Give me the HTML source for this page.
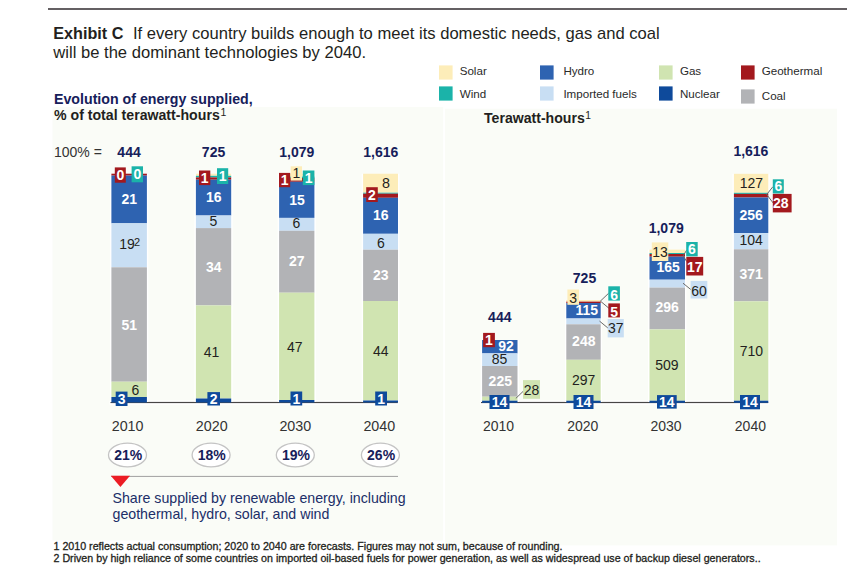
<!DOCTYPE html>
<html><head><meta charset="utf-8"><title>Exhibit C</title>
<style>
html,body{margin:0;padding:0;background:#fff;}
body{width:858px;height:569px;overflow:hidden;}
svg{display:block;font-family:"Liberation Sans", Arial, sans-serif;}
</style></head><body>
<svg width="858" height="569" viewBox="0 0 858 569">
<rect x="52.50" y="107.00" width="390.70" height="433.50" fill="#fafcf7"/>
<rect x="445.00" y="108.70" width="392.00" height="436.70" fill="#fafcf7"/>
<rect x="48.00" y="8.00" width="799.00" height="2.00" fill="#646063"/>
<text x="53.30" y="38.70" font-size="16.6" fill="#231f20"><tspan font-weight="bold" font-size="16.2">Exhibit C </tspan><tspan x="133">If every country builds enough to meet its domestic needs, gas and coal</tspan></text>
<text x="53.30" y="58.20" font-size="16.6" fill="#231f20">will be the dominant technologies by 2040.</text>
<rect x="439.00" y="65.40" width="13.60" height="14.20" fill="#fdedb9"/>
<text x="459.70" y="75.40" font-size="11.6" fill="#2a2a2a">Solar</text>
<rect x="439.00" y="86.40" width="13.60" height="14.20" fill="#1bb3a9"/>
<text x="459.70" y="98.40" font-size="11.6" fill="#2a2a2a">Wind</text>
<rect x="540.00" y="65.40" width="13.60" height="14.20" fill="#2e63b1"/>
<text x="563.40" y="75.40" font-size="11.6" fill="#2a2a2a">Hydro</text>
<rect x="540.00" y="86.40" width="13.60" height="14.20" fill="#c8def3"/>
<text x="563.40" y="98.40" font-size="11.6" fill="#2a2a2a">Imported fuels</text>
<rect x="659.00" y="65.40" width="13.60" height="14.20" fill="#d0e4b1"/>
<text x="679.90" y="75.40" font-size="11.6" fill="#2a2a2a">Gas</text>
<rect x="659.00" y="86.40" width="13.60" height="14.20" fill="#0e4a9b"/>
<text x="679.90" y="98.40" font-size="11.6" fill="#2a2a2a">Nuclear</text>
<rect x="741.00" y="65.40" width="13.60" height="14.20" fill="#a3191e"/>
<text x="761.70" y="75.40" font-size="11.6" fill="#2a2a2a">Geothermal</text>
<rect x="741.00" y="89.40" width="13.60" height="14.20" fill="#b2b3b6"/>
<text x="761.80" y="99.60" font-size="11.6" fill="#2a2a2a">Coal</text>
<text x="54.00" y="103.50" font-size="14.2" font-weight="bold" fill="#16205a">Evolution of energy supplied,</text>
<text x="54.00" y="119.60" font-size="14.15" font-weight="bold" fill="#231f20">% of total terawatt-hours<tspan font-size="10.5" font-weight="normal" dx="0.6" dy="-3.8">1</tspan></text>
<text x="484.00" y="122.70" font-size="14.1" font-weight="bold" fill="#231f20">Terawatt-hours<tspan font-size="10.3" font-weight="normal" dx="0.6" dy="-3.9">1</tspan></text>
<text x="54.00" y="156.70" font-size="14" fill="#333">100% =</text>
<text x="129.05" y="156.70" font-size="14" font-weight="bold" text-anchor="middle" fill="#16205a">444</text>
<text x="213.55" y="156.70" font-size="14" font-weight="bold" text-anchor="middle" fill="#16205a">725</text>
<text x="296.75" y="156.70" font-size="14" font-weight="bold" text-anchor="middle" fill="#16205a">1,079</text>
<text x="380.75" y="156.70" font-size="14" font-weight="bold" text-anchor="middle" fill="#16205a">1,616</text>
<rect x="109.50" y="400.50" width="289.30" height="4.20" fill="#fff"/>
<rect x="110.50" y="401.90" width="287.30" height="1.20" fill="#474545"/>
<rect x="110.00" y="173.70" width="38.30" height="228.20" fill="#fff"/>
<rect x="111.40" y="173.70" width="35.50" height="1.90" fill="#a3191e"/>
<rect x="111.40" y="175.60" width="35.50" height="47.70" fill="#2e63b1"/>
<rect x="111.40" y="223.30" width="35.50" height="44.00" fill="#c8def3"/>
<rect x="111.40" y="267.30" width="35.50" height="114.40" fill="#b2b3b6"/>
<rect x="111.40" y="381.70" width="35.50" height="15.30" fill="#d0e4b1"/>
<rect x="111.40" y="397.00" width="35.50" height="5.50" fill="#0e4a9b"/>
<rect x="194.50" y="173.70" width="38.10" height="228.20" fill="#fff"/>
<rect x="195.90" y="173.70" width="35.30" height="2.10" fill="#fdedb9"/>
<rect x="195.90" y="175.80" width="35.30" height="1.60" fill="#1bb3a9"/>
<rect x="195.90" y="177.40" width="35.30" height="2.30" fill="#a3191e"/>
<rect x="195.90" y="179.70" width="35.30" height="35.80" fill="#2e63b1"/>
<rect x="195.90" y="215.50" width="35.30" height="12.60" fill="#c8def3"/>
<rect x="195.90" y="228.10" width="35.30" height="77.30" fill="#b2b3b6"/>
<rect x="195.90" y="305.40" width="35.30" height="93.10" fill="#d0e4b1"/>
<rect x="195.90" y="398.50" width="35.30" height="4.00" fill="#0e4a9b"/>
<rect x="277.70" y="173.70" width="38.10" height="228.20" fill="#fff"/>
<rect x="279.10" y="173.70" width="35.30" height="2.90" fill="#fdedb9"/>
<rect x="279.10" y="176.60" width="35.30" height="1.40" fill="#1bb3a9"/>
<rect x="279.10" y="178.00" width="35.30" height="3.80" fill="#a3191e"/>
<rect x="279.10" y="181.80" width="35.30" height="36.10" fill="#2e63b1"/>
<rect x="279.10" y="217.90" width="35.30" height="12.90" fill="#c8def3"/>
<rect x="279.10" y="230.80" width="35.30" height="61.90" fill="#b2b3b6"/>
<rect x="279.10" y="292.70" width="35.30" height="107.30" fill="#d0e4b1"/>
<rect x="279.10" y="400.00" width="35.30" height="2.50" fill="#0e4a9b"/>
<rect x="361.70" y="173.70" width="37.70" height="228.20" fill="#fff"/>
<rect x="363.10" y="173.70" width="34.90" height="19.00" fill="#fdedb9"/>
<rect x="363.10" y="192.70" width="34.90" height="1.00" fill="#1bb3a9"/>
<rect x="363.10" y="193.70" width="34.90" height="4.10" fill="#a3191e"/>
<rect x="363.10" y="197.80" width="34.90" height="36.00" fill="#2e63b1"/>
<rect x="363.10" y="233.80" width="34.90" height="15.90" fill="#c8def3"/>
<rect x="363.10" y="249.70" width="34.90" height="51.30" fill="#b2b3b6"/>
<rect x="363.10" y="301.00" width="34.90" height="99.50" fill="#d0e4b1"/>
<rect x="363.10" y="400.50" width="34.90" height="2.00" fill="#0e4a9b"/>
<rect x="114.80" y="167.40" width="11.00" height="15.30" fill="#a3191e"/>
<text x="120.30" y="180.09" font-size="14" font-weight="bold" text-anchor="middle" fill="#fff">0</text>
<rect x="131.60" y="166.30" width="11.40" height="16.00" fill="#1bb3a9"/>
<text x="137.30" y="179.34" font-size="14" font-weight="bold" text-anchor="middle" fill="#fff">0</text>
<text x="129.20" y="204.00" font-size="14" font-weight="bold" text-anchor="middle" fill="#fff">21</text>
<text x="119.20" y="249.30" font-size="14" fill="#231f20">19<tspan font-size="11" dx="-0.9" dy="-3.6">2</tspan></text>
<text x="129.20" y="330.00" font-size="14" font-weight="bold" text-anchor="middle" fill="#fff">51</text>
<text x="135.30" y="394.50" font-size="14" text-anchor="middle" fill="#231f20">6</text>
<rect x="115.70" y="391.60" width="11.80" height="14.40" fill="#0e4a9b"/>
<text x="121.60" y="403.84" font-size="14" font-weight="bold" text-anchor="middle" fill="#fff">3</text>
<rect x="199.00" y="170.50" width="11.30" height="14.60" fill="#a3191e"/>
<text x="204.65" y="182.84" font-size="14" font-weight="bold" text-anchor="middle" fill="#fff">1</text>
<rect x="217.00" y="168.20" width="11.20" height="15.80" fill="#1bb3a9"/>
<text x="222.60" y="181.14" font-size="14" font-weight="bold" text-anchor="middle" fill="#fff">1</text>
<text x="213.70" y="201.70" font-size="14" font-weight="bold" text-anchor="middle" fill="#fff">16</text>
<text x="213.50" y="226.20" font-size="14" text-anchor="middle" fill="#231f20">5</text>
<text x="213.70" y="271.60" font-size="14" font-weight="bold" text-anchor="middle" fill="#fff">34</text>
<text x="211.50" y="357.10" font-size="14" text-anchor="middle" fill="#231f20">41</text>
<rect x="207.40" y="392.10" width="12.60" height="13.40" fill="#0e4a9b"/>
<text x="213.70" y="403.84" font-size="14" font-weight="bold" text-anchor="middle" fill="#fff">2</text>
<rect x="279.00" y="172.90" width="11.20" height="14.30" fill="#a3191e"/>
<text x="284.60" y="185.09" font-size="14" font-weight="bold" text-anchor="middle" fill="#fff">1</text>
<rect x="290.70" y="166.30" width="11.30" height="14.30" fill="#fdedb9"/>
<text x="296.35" y="178.49" font-size="14" text-anchor="middle" fill="#231f20">1</text>
<rect x="302.80" y="170.50" width="11.60" height="14.60" fill="#1bb3a9"/>
<text x="308.60" y="182.84" font-size="14" font-weight="bold" text-anchor="middle" fill="#fff">1</text>
<text x="297.00" y="204.80" font-size="14" font-weight="bold" text-anchor="middle" fill="#fff">15</text>
<text x="296.50" y="228.10" font-size="14" text-anchor="middle" fill="#231f20">6</text>
<text x="296.80" y="266.30" font-size="14" font-weight="bold" text-anchor="middle" fill="#fff">27</text>
<text x="294.80" y="351.80" font-size="14" text-anchor="middle" fill="#231f20">47</text>
<rect x="290.50" y="391.50" width="11.70" height="14.00" fill="#0e4a9b"/>
<text x="296.35" y="403.54" font-size="14" font-weight="bold" text-anchor="middle" fill="#fff">1</text>
<text x="386.00" y="188.20" font-size="14.3" text-anchor="middle" fill="#231f20">8</text>
<rect x="366.20" y="187.20" width="11.60" height="14.80" fill="#a3191e"/>
<text x="372.00" y="199.64" font-size="14" font-weight="bold" text-anchor="middle" fill="#fff">2</text>
<text x="380.80" y="220.00" font-size="14" font-weight="bold" text-anchor="middle" fill="#fff">16</text>
<text x="380.80" y="247.50" font-size="14" text-anchor="middle" fill="#231f20">6</text>
<text x="380.80" y="280.30" font-size="14" font-weight="bold" text-anchor="middle" fill="#fff">23</text>
<text x="380.70" y="355.70" font-size="14" text-anchor="middle" fill="#231f20">44</text>
<rect x="375.20" y="391.50" width="11.80" height="14.00" fill="#0e4a9b"/>
<text x="381.10" y="403.54" font-size="14" font-weight="bold" text-anchor="middle" fill="#fff">1</text>
<text x="111.70" y="430.50" font-size="14.3" fill="#333">2010</text>
<text x="195.80" y="430.50" font-size="14.3" fill="#333">2020</text>
<text x="279.40" y="430.50" font-size="14.3" fill="#333">2030</text>
<text x="363.40" y="430.50" font-size="14.3" fill="#333">2040</text>
<ellipse cx="127.5" cy="455" rx="19" ry="11.8" fill="#fff" stroke="#c4c4c4" stroke-width="1.3"/>
<text x="128.20" y="460.00" font-size="14" font-weight="bold" text-anchor="middle" fill="#16205a">21%</text>
<ellipse cx="211.1" cy="455" rx="19" ry="11.8" fill="#fff" stroke="#c4c4c4" stroke-width="1.3"/>
<text x="211.80" y="460.00" font-size="14" font-weight="bold" text-anchor="middle" fill="#16205a">18%</text>
<ellipse cx="295.3" cy="455" rx="19" ry="11.8" fill="#fff" stroke="#c4c4c4" stroke-width="1.3"/>
<text x="296.00" y="460.00" font-size="14" font-weight="bold" text-anchor="middle" fill="#16205a">19%</text>
<ellipse cx="380.4" cy="455" rx="19" ry="11.8" fill="#fff" stroke="#c4c4c4" stroke-width="1.3"/>
<text x="381.10" y="460.00" font-size="14" font-weight="bold" text-anchor="middle" fill="#16205a">26%</text>
<rect x="111.00" y="475.90" width="287.00" height="1.10" fill="#a9a9a9"/>
<polygon points="110.8,475.7 130,475.7 120.4,487" fill="#ec1c24"/>
<text x="112.50" y="503.40" font-size="14.2" fill="#202e68">Share supplied by renewable energy, including</text>
<text x="112.50" y="519.20" font-size="14.2" fill="#202e68">geothermal, hydro, solar, and wind</text>
<rect x="480.00" y="400.50" width="289.20" height="4.20" fill="#fff"/>
<rect x="481.00" y="401.90" width="287.20" height="1.20" fill="#474545"/>
<rect x="480.70" y="340.00" width="38.20" height="61.90" fill="#fff"/>
<rect x="482.10" y="340.00" width="35.40" height="13.40" fill="#2e63b1"/>
<rect x="482.10" y="353.40" width="35.40" height="12.60" fill="#c8def3"/>
<rect x="482.10" y="366.00" width="35.40" height="30.70" fill="#b2b3b6"/>
<rect x="482.10" y="396.70" width="35.40" height="4.00" fill="#d0e4b1"/>
<rect x="482.10" y="400.70" width="35.40" height="2.10" fill="#0e4a9b"/>
<rect x="564.90" y="300.00" width="37.20" height="101.90" fill="#fff"/>
<rect x="566.30" y="300.00" width="34.40" height="1.60" fill="#fdedb9"/>
<rect x="566.30" y="301.60" width="34.40" height="1.40" fill="#a3191e"/>
<rect x="566.30" y="303.00" width="34.40" height="15.50" fill="#2e63b1"/>
<rect x="566.30" y="318.50" width="34.40" height="5.80" fill="#c8def3"/>
<rect x="566.30" y="324.30" width="34.40" height="35.50" fill="#b2b3b6"/>
<rect x="566.30" y="359.80" width="34.40" height="40.90" fill="#d0e4b1"/>
<rect x="566.30" y="400.70" width="34.40" height="2.10" fill="#0e4a9b"/>
<rect x="648.10" y="249.60" width="38.30" height="152.30" fill="#fff"/>
<rect x="649.50" y="249.60" width="35.50" height="3.40" fill="#fdedb9"/>
<rect x="649.50" y="253.00" width="35.50" height="1.00" fill="#1bb3a9"/>
<rect x="649.50" y="254.00" width="35.50" height="2.70" fill="#a3191e"/>
<rect x="649.50" y="256.70" width="35.50" height="23.00" fill="#2e63b1"/>
<rect x="649.50" y="279.70" width="35.50" height="7.90" fill="#c8def3"/>
<rect x="649.50" y="287.60" width="35.50" height="41.80" fill="#b2b3b6"/>
<rect x="649.50" y="329.40" width="35.50" height="71.30" fill="#d0e4b1"/>
<rect x="649.50" y="400.70" width="35.50" height="2.10" fill="#0e4a9b"/>
<rect x="732.50" y="173.80" width="37.20" height="228.10" fill="#fff"/>
<rect x="733.90" y="173.80" width="34.40" height="19.00" fill="#fdedb9"/>
<rect x="733.90" y="192.80" width="34.40" height="1.10" fill="#1bb3a9"/>
<rect x="733.90" y="193.90" width="34.40" height="3.60" fill="#a3191e"/>
<rect x="733.90" y="197.50" width="34.40" height="35.60" fill="#2e63b1"/>
<rect x="733.90" y="233.10" width="34.40" height="16.20" fill="#c8def3"/>
<rect x="733.90" y="249.30" width="34.40" height="52.00" fill="#b2b3b6"/>
<rect x="733.90" y="301.30" width="34.40" height="99.40" fill="#d0e4b1"/>
<rect x="733.90" y="400.70" width="34.40" height="2.10" fill="#0e4a9b"/>
<text x="499.80" y="322.20" font-size="14" font-weight="bold" text-anchor="middle" fill="#16205a">444</text>
<rect x="483.10" y="332.90" width="11.80" height="14.30" fill="#a3191e"/>
<text x="489.00" y="345.10" font-size="14" font-weight="bold" text-anchor="middle" fill="#fff">1</text>
<text x="506.00" y="351.30" font-size="14" font-weight="bold" text-anchor="middle" fill="#fff">92</text>
<text x="499.60" y="363.70" font-size="14" text-anchor="middle" fill="#231f20">85</text>
<text x="500.30" y="386.10" font-size="14" font-weight="bold" text-anchor="middle" fill="#fff">225</text>
<line x1="515.8" y1="398.4" x2="523.5" y2="391" stroke="#6a6a6a" stroke-width="1"/>
<rect x="523.00" y="380.10" width="17.00" height="18.70" fill="#d0e4b1"/>
<text x="531.50" y="394.60" font-size="14" text-anchor="middle" fill="#231f20">28</text>
<rect x="489.50" y="395.00" width="20.00" height="14.00" fill="#0e4a9b"/>
<text x="499.50" y="407.04" font-size="14" font-weight="bold" text-anchor="middle" fill="#fff">14</text>
<text x="584.50" y="282.50" font-size="14" font-weight="bold" text-anchor="middle" fill="#16205a">725</text>
<rect x="567.40" y="289.50" width="11.60" height="15.30" fill="#fdedb9"/>
<text x="573.20" y="303.40" font-size="14" text-anchor="middle" fill="#231f20">3</text>
<text x="586.80" y="314.60" font-size="14" font-weight="bold" text-anchor="middle" fill="#fff">115</text>
<line x1="600.4" y1="301.1" x2="608.7" y2="293.2" stroke="#6a6a6a" stroke-width="1"/>
<line x1="600.4" y1="301.1" x2="609" y2="308.3" stroke="#6a6a6a" stroke-width="1"/>
<rect x="608.30" y="286.30" width="11.60" height="14.30" fill="#1bb3a9"/>
<text x="614.10" y="299.60" font-size="14" font-weight="bold" text-anchor="middle" fill="#fff">6</text>
<rect x="608.30" y="303.40" width="11.60" height="14.00" fill="#a3191e"/>
<text x="614.10" y="316.50" font-size="14" font-weight="bold" text-anchor="middle" fill="#fff">5</text>
<line x1="599.5" y1="321.1" x2="608.5" y2="328.5" stroke="#6a6a6a" stroke-width="1"/>
<rect x="607.70" y="319.00" width="16.10" height="18.40" fill="#c8def3"/>
<text x="615.75" y="333.40" font-size="14" text-anchor="middle" fill="#231f20">37</text>
<text x="583.80" y="346.00" font-size="14" font-weight="bold" text-anchor="middle" fill="#fff">248</text>
<text x="583.70" y="385.40" font-size="14" text-anchor="middle" fill="#231f20">297</text>
<rect x="573.50" y="395.00" width="20.00" height="14.00" fill="#0e4a9b"/>
<text x="583.50" y="407.04" font-size="14" font-weight="bold" text-anchor="middle" fill="#fff">14</text>
<text x="666.20" y="233.40" font-size="14" font-weight="bold" text-anchor="middle" fill="#16205a">1,079</text>
<rect x="651.80" y="242.40" width="16.50" height="18.60" fill="#fdedb9"/>
<text x="660.05" y="256.74" font-size="14" text-anchor="middle" fill="#231f20">13</text>
<text x="668.20" y="271.70" font-size="14" font-weight="bold" text-anchor="middle" fill="#fff">165</text>
<line x1="683.3" y1="255.8" x2="686.6" y2="250.1" stroke="#6a6a6a" stroke-width="1"/>
<line x1="683.3" y1="255.8" x2="686.6" y2="261.5" stroke="#6a6a6a" stroke-width="1"/>
<rect x="686.20" y="242.00" width="11.50" height="14.40" fill="#1bb3a9"/>
<text x="691.95" y="254.24" font-size="14" font-weight="bold" text-anchor="middle" fill="#fff">6</text>
<rect x="686.30" y="256.90" width="16.90" height="18.60" fill="#a3191e"/>
<text x="694.75" y="272.30" font-size="14" font-weight="bold" text-anchor="middle" fill="#fff">17</text>
<line x1="683" y1="283.2" x2="691" y2="289.7" stroke="#6a6a6a" stroke-width="1"/>
<rect x="690.60" y="280.90" width="16.70" height="17.60" fill="#c8def3"/>
<text x="698.95" y="295.50" font-size="14" text-anchor="middle" fill="#231f20">60</text>
<text x="667.20" y="312.20" font-size="14" font-weight="bold" text-anchor="middle" fill="#fff">296</text>
<text x="666.90" y="370.10" font-size="14" text-anchor="middle" fill="#231f20">509</text>
<rect x="657.00" y="395.10" width="19.70" height="13.50" fill="#0e4a9b"/>
<text x="666.85" y="406.89" font-size="14" font-weight="bold" text-anchor="middle" fill="#fff">14</text>
<text x="750.90" y="155.60" font-size="14" font-weight="bold" text-anchor="middle" fill="#16205a">1,616</text>
<text x="751.40" y="188.00" font-size="14" text-anchor="middle" fill="#231f20">127</text>
<line x1="766.7" y1="194.5" x2="772.9" y2="186.7" stroke="#6a6a6a" stroke-width="1"/>
<line x1="766.7" y1="194.5" x2="773.2" y2="203" stroke="#6a6a6a" stroke-width="1"/>
<rect x="772.80" y="179.30" width="11.00" height="14.20" fill="#1bb3a9"/>
<text x="778.30" y="191.44" font-size="14" font-weight="bold" text-anchor="middle" fill="#fff">6</text>
<rect x="772.80" y="193.90" width="18.80" height="18.50" fill="#a3191e"/>
<text x="780.80" y="207.90" font-size="14" font-weight="bold" text-anchor="middle" fill="#fff">28</text>
<text x="751.20" y="219.70" font-size="14" font-weight="bold" text-anchor="middle" fill="#fff">256</text>
<text x="751.10" y="245.10" font-size="14" text-anchor="middle" fill="#231f20">104</text>
<text x="751.20" y="279.40" font-size="14" font-weight="bold" text-anchor="middle" fill="#fff">371</text>
<text x="751.40" y="355.70" font-size="14" text-anchor="middle" fill="#231f20">710</text>
<rect x="740.00" y="395.00" width="20.00" height="14.30" fill="#0e4a9b"/>
<text x="750.00" y="407.19" font-size="14" font-weight="bold" text-anchor="middle" fill="#fff">14</text>
<text x="498.60" y="430.50" font-size="14" text-anchor="middle" fill="#333">2010</text>
<text x="582.80" y="430.50" font-size="14" text-anchor="middle" fill="#333">2020</text>
<text x="666.00" y="430.50" font-size="14" text-anchor="middle" fill="#333">2030</text>
<text x="750.40" y="430.50" font-size="14" text-anchor="middle" fill="#333">2040</text>
<text x="53.50" y="549.60" font-size="10.68" fill="#231f20" stroke="#231f20" stroke-width="0.3">1 2010 reflects actual consumption; 2020 to 2040 are forecasts. Figures may not sum, because of rounding.</text>
<text x="53.50" y="562.20" font-size="10.68" fill="#231f20" stroke="#231f20" stroke-width="0.3">2 Driven by high reliance of some countries on imported oil-based fuels for power generation, as well as widespread use of backup diesel generators..</text>
</svg>
</body></html>
